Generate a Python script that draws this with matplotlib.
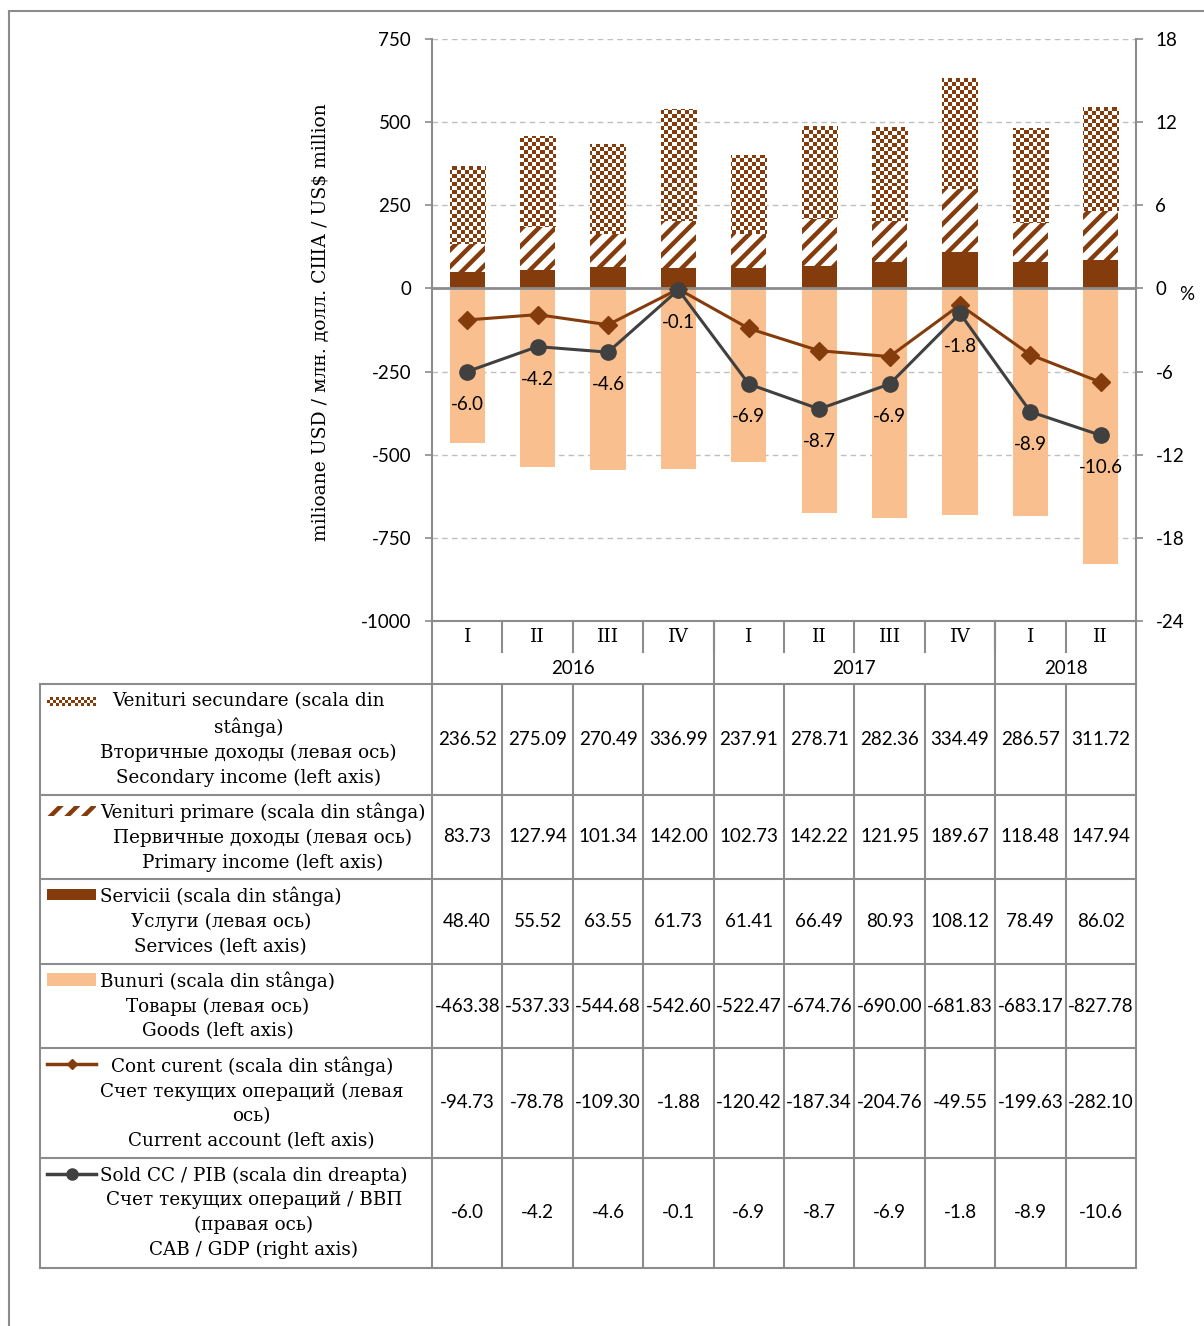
import numpy as np
import matplotlib
matplotlib.use("Agg")
import matplotlib.pyplot as plt
from matplotlib.patches import Rectangle

quarters = ["I", "II", "III", "IV", "I", "II", "III", "IV", "I", "II"]
years = ["2016", "2017", "2018"]
year_spans = [4, 4, 2]
secondary = [236.52, 275.09, 270.49, 336.99, 237.91, 278.71, 282.36, 334.49, 286.57, 311.72]
primary = [83.73, 127.94, 101.34, 142.00, 102.73, 142.22, 121.95, 189.67, 118.48, 147.94]
services = [48.40, 55.52, 63.55, 61.73, 61.41, 66.49, 80.93, 108.12, 78.49, 86.02]
goods = [-463.38, -537.33, -544.68, -542.60, -522.47, -674.76, -690.00, -681.83, -683.17, -827.78]
current = [-94.73, -78.78, -109.30, -1.88, -120.42, -187.34, -204.76, -49.55, -199.63, -282.10]
cab_gdp = [-6.0, -4.2, -4.6, -0.1, -6.9, -8.7, -6.9, -1.8, -8.9, -10.6]

row_labels = [
    "Venituri secundare (scala din\nstânga)\nВторичные доходы (левая ось)\nSecondary income (left axis)",
    "Venituri primare (scala din stânga)\nПервичные доходы (левая ось)\nPrimary income (left axis)",
    "Servicii (scala din stânga)\nУслуги (левая ось)\nServices (left axis)",
    "Bunuri (scala din stânga)\nТовары (левая ось)\nGoods (left axis)",
    "Cont curent (scala din stânga)\nСчет текущих операций (левая\nось)\nCurrent account (left axis)",
    "Sold CC / PIB (scala din dreapta)\nСчет текущих операций / ВВП\n(правая ось)\nCAB / GDP (right axis)",
]
row_values = [secondary, primary, services, goods, current, cab_gdp]

BROWN = "#843C0C"
PEACH = "#F9BF8F"
DARK = "#404040"
GRIDC = "#BFBFBF"
LINEC = "#8C8C8C"
SERIF = ["DejaVu Serif"]
SANS = ["Lato", "DejaVu Sans"]

plt.rcParams["hatch.linewidth"] = 3.2
plt.rcParams["axes.unicode_minus"] = False

W, H = 1204, 1326
fig = plt.figure(figsize=(W / 100, H / 100), dpi=100)

# layout in pixels
ax_l, ax_r, ax_t, ax_b = 432, 1136, 39, 621
ax = fig.add_axes([ax_l / W, 1 - ax_b / H, (ax_r - ax_l) / W, (ax_b - ax_t) / H])
ax.set_facecolor("none")

x = np.arange(len(quarters))
bw = 0.5

for y in range(-750, 751, 250):
    if y != 0:
        ax.axhline(y, color=GRIDC, lw=1, ls=(0, (4, 3)), zorder=0)

ax.bar(x, goods, bw, color=PEACH, zorder=2)
ax.bar(x, services, bw, color=BROWN, zorder=2)
base2 = np.array(services)
ax.bar(x, primary, bw, bottom=base2, facecolor="white", edgecolor=BROWN, hatch="//", lw=0, zorder=2)
base3 = base2 + np.array(primary)
sec_bars = ax.bar(x, secondary, bw, bottom=base3, facecolor="none", edgecolor="none", zorder=2)

# checkerboard fill for secondary income
ny, nx = 146, 176
cells = (np.indices((ny, nx)).sum(axis=0) % 2).astype(float)
brown_rgb = np.array(matplotlib.colors.to_rgb(BROWN))
checker = np.where(cells[..., None] == 1, brown_rgb, np.ones(3))
for p in sec_bars.patches:
    im = ax.imshow(checker, extent=(-0.5, 9.5, -1000, 750), aspect="auto",
                   interpolation="nearest", zorder=2)
    im.set_clip_path(p)

ax.axhline(0, color=LINEC, lw=2, zorder=3)
ax.plot(x, current, color=BROWN, marker="D", ms=9, lw=2.2, zorder=5)

ax.set_xlim(-0.5, 9.5)
ax.set_ylim(-1000, 750)
ax.set_yticks(range(-1000, 751, 250))
ax.set_xticks([])
for s in ["top", "right"]:
    ax.spines[s].set_visible(False)
ax.spines["left"].set_color(LINEC)
ax.spines["left"].set_linewidth(1.5)
ax.spines["bottom"].set_color(LINEC)
ax.spines["bottom"].set_linewidth(1.5)
ax.tick_params(axis="y", length=5, width=1.2, color=LINEC, pad=10, labelsize=13.5)
for t in ax.get_yticklabels():
    t.set_family(SANS)
ax.set_ylabel("milioane USD / млн. долл. США / US$ million", family=SERIF, fontsize=13.5)
ax.yaxis.set_label_coords(-0.145, 0.514)

ax2 = ax.twinx()
ax2.set_ylim(-24, 18)
ax2.set_yticks(range(-24, 19, 6))
ax2.plot(x, cab_gdp, color=DARK, marker="o", ms=11, lw=2.2, zorder=6)
for i, v in enumerate(cab_gdp):
    ax2.annotate(f"{v:.1f}", (i, v), xytext=(0, -23.5), textcoords="offset points",
                 ha="center", va="center", fontsize=13.5, family=SANS)
for s in ["top", "left", "bottom"]:
    ax2.spines[s].set_visible(False)
ax2.spines["right"].set_color(LINEC)
ax2.spines["right"].set_linewidth(1.5)
ax2.tick_params(axis="y", length=5, width=1.2, color=LINEC, pad=9, labelsize=13.5)
for t in ax2.get_yticklabels():
    t.set_family(SANS)

# overlay in pixel coordinates for frame and table
ov = fig.add_axes([0, 0, 1, 1], zorder=-1)
ov.set_xlim(0, W)
ov.set_ylim(H, 0)
ov.axis("off")
ov.text(1187, 295, "%", ha="center", va="center", fontsize=13.5, family=SANS)

ov.plot([9, 9], [11, H], color=LINEC, lw=1.5)
ov.plot([9, W], [11, 11], color=LINEC, lw=1.5)

col_w = (ax_r - ax_l) / len(quarters)
edges = [ax_l + col_w * i for i in range(len(quarters) + 1)]
row_edges = [684, 795, 879, 964, 1048, 1158, 1268]
tl = dict(color=LINEC, lw=1.5)

# header: quarters and years
for i, q in enumerate(quarters):
    ov.text((edges[i] + edges[i + 1]) / 2, 637, q, ha="center", va="center", fontsize=13.5, family=SERIF)
    if 0 < i:
        ov.plot([edges[i], edges[i]], [621, 652], **tl)
k = 0
for yr, n in zip(years, year_spans):
    ov.text((edges[k] + edges[k + n]) / 2, 668, yr, ha="center", va="center", fontsize=13.5, family=SANS)
    ov.plot([edges[k], edges[k]], [621, 684], **tl)
    k += n
ov.plot([edges[-1], edges[-1]], [621, 684], **tl)

# table body
for ry in row_edges:
    ov.plot([40, edges[-1]], [ry, ry], **tl)
for ex in [40] + edges:
    ov.plot([ex, ex], [row_edges[0], row_edges[-1]], **tl)

for r, (lab, vals) in enumerate(zip(row_labels, row_values)):
    cy = (row_edges[r] + row_edges[r + 1]) / 2
    ov.text(100, cy, lab, ha="left", va="center", multialignment="center",
            fontsize=13.2, family=SERIF, linespacing=1.47)
    fmt = "{:.1f}" if r == 5 else "{:.2f}"
    for i, v in enumerate(vals):
        ov.text((edges[i] + edges[i + 1]) / 2, cy, fmt.format(v), ha="center", va="center",
                fontsize=13.5, family=SANS)

# legend swatches
sw = np.where((np.indices((3, 16)).sum(axis=0) % 2)[..., None] == 1, brown_rgb, np.ones(3))
ov.imshow(sw, extent=(47, 96, 706, 697), aspect="auto", interpolation="nearest")
ov.add_patch(Rectangle((47, 806), 49, 10, facecolor="white", edgecolor=BROWN, hatch="//", lw=0))
ov.add_patch(Rectangle((47, 889), 49, 11, color=BROWN, lw=0))
ov.add_patch(Rectangle((47, 973), 49, 13, color=PEACH, lw=0))
ov.plot([47, 96], [1064, 1064], color=BROWN, lw=2.5)
ov.plot([72], [1064], color=BROWN, marker="D", ms=5)
ov.plot([47, 96], [1174, 1174], color=DARK, lw=2.5)
ov.plot([72], [1174], color=DARK, marker="o", ms=8)
ov.set_xlim(0, W)
ov.set_ylim(H, 0)

fig.savefig("out.png", dpi=100)
